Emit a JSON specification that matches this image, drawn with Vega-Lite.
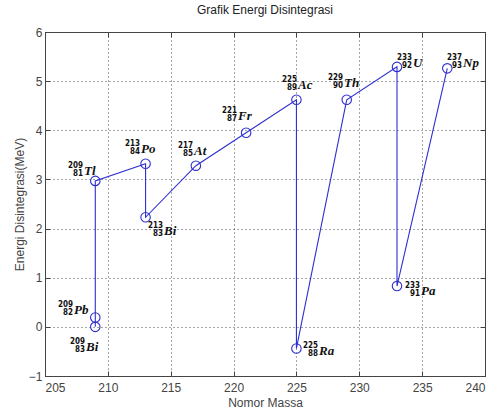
{
  "$schema": "https://vega.github.io/schema/vega-lite/v6.json",
  "width": 440,
  "height": 344,
  "autosize": "none",
  "padding": {"left": 45, "top": 32, "right": 9, "bottom": 34},
  "background": "white",
  "title": {"text": "Grafik Energi Disintegrasi", "fontSize": 12, "fontWeight": "normal", "font": "Liberation Sans", "color": "#222222", "offset": 9},
  "config": {
    "view": {"stroke": "#444444", "strokeWidth": 1},
    "axis": {
      "labelFont": "Liberation Sans", "labelFontSize": 12, "labelColor": "#444444",
      "titleFont": "Liberation Sans", "titleFontSize": 12, "titleColor": "#444444", "titleFontWeight": "normal",
      "domainColor": "#444444", "tickColor": "#444444", "tickSize": -5, "labelPadding": 8,
      "gridColor": "#000000", "gridDash": [1, 3], "gridOpacity": 0.7, "gridWidth": 1
    }
  },
  "data": {"values": [
    {"sym": "Np", "mass": 237, "E": 5.26, "step": 1, "A": "237", "Z": "93", "lx": 238.17, "ly": 5.39},
    {"sym": "Pa", "mass": 233, "E": 0.83, "step": 2, "A": "233", "Z": "91", "lx": 234.83, "ly": 0.75},
    {"sym": "U", "mass": 233, "E": 5.29, "step": 3, "A": "233", "Z": "92", "lx": 234.19, "ly": 5.39},
    {"sym": "Th", "mass": 229, "E": 4.62, "step": 4, "A": "229", "Z": "90", "lx": 228.71, "ly": 4.98},
    {"sym": "Ra", "mass": 225, "E": -0.44, "step": 5, "A": "225", "Z": "88", "lx": 226.72, "ly": -0.47},
    {"sym": "Ac", "mass": 225, "E": 4.62, "step": 6, "A": "225", "Z": "89", "lx": 225.05, "ly": 4.94},
    {"sym": "Fr", "mass": 221, "E": 3.95, "step": 7, "A": "221", "Z": "87", "lx": 220.27, "ly": 4.31},
    {"sym": "At", "mass": 217, "E": 3.28, "step": 8, "A": "217", "Z": "85", "lx": 216.77, "ly": 3.6},
    {"sym": "Bi", "mass": 213, "E": 2.23, "step": 9, "A": "213", "Z": "83", "lx": 214.39, "ly": 1.97},
    {"sym": "Po", "mass": 213, "E": 3.32, "step": 10, "A": "213", "Z": "84", "lx": 212.56, "ly": 3.64},
    {"sym": "Tl", "mass": 209, "E": 2.97, "step": 11, "A": "209", "Z": "81", "lx": 208.02, "ly": 3.19},
    {"sym": "Pb", "mass": 209, "E": 0.19, "step": 12, "A": "209", "Z": "82", "lx": 207.23, "ly": 0.36},
    {"sym": "Bi", "mass": 209, "E": 0.0, "step": 13, "A": "209", "Z": "83", "lx": 208.18, "ly": -0.39}
  ]},
  "resolve": {"scale": {"x": "shared", "y": "shared"}, "axis": {"x": "independent", "y": "independent"}},
  "layer": [
    {
      "mark": {"type": "line", "color": "#2f2fd0", "strokeWidth": 1.1},
      "encoding": {
        "x": {"field": "mass", "type": "quantitative", "scale": {"domain": [205, 240], "nice": false, "zero": false},
              "axis": {"title": "Nomor Massa", "values": [205, 210, 215, 220, 225, 230, 235, 240], "grid": true, "titlePadding": 4, "labelPadding": 11}},
        "y": {"field": "E", "type": "quantitative", "scale": {"domain": [-1, 6], "nice": false, "zero": false},
              "axis": {"title": "Energi Disintegrasi(MeV)", "values": [-1, 0, 1, 2, 3, 4, 5, 6], "grid": true, "titlePadding": 2, "labelPadding": 8}},
        "order": {"field": "step", "type": "quantitative"}
      }
    },
    {
      "mark": {"type": "point", "shape": "circle", "filled": false, "size": 90, "color": "#2f2fd0", "strokeWidth": 1.1, "opacity": 1},
      "encoding": {
        "x": {"field": "mass", "type": "quantitative", "axis": {"orient": "top", "title": null, "labels": false, "grid": false, "values": [205, 210, 215, 220, 225, 230, 235, 240]}},
        "y": {"field": "E", "type": "quantitative", "axis": {"orient": "right", "title": null, "labels": false, "grid": false, "values": [-1, 0, 1, 2, 3, 4, 5, 6]}}
      }
    },
    {
      "mark": {"type": "text", "align": "right", "baseline": "middle", "dy": -4, "fontSize": 8, "fontWeight": "bold", "font": "DejaVu Sans Condensed", "color": "#111111"},
      "encoding": {
        "x": {"field": "lx", "type": "quantitative", "axis": null},
        "y": {"field": "ly", "type": "quantitative", "axis": null},
        "text": {"field": "A"}
      }
    },
    {
      "mark": {"type": "text", "align": "right", "baseline": "middle", "dy": 4, "fontSize": 8, "fontWeight": "bold", "font": "DejaVu Sans Condensed", "color": "#111111"},
      "encoding": {
        "x": {"field": "lx", "type": "quantitative", "axis": null},
        "y": {"field": "ly", "type": "quantitative", "axis": null},
        "text": {"field": "Z"}
      }
    },
    {
      "mark": {"type": "text", "align": "left", "baseline": "middle", "dx": 1, "dy": 1, "fontSize": 13, "fontWeight": "bold", "fontStyle": "italic", "font": "Liberation Serif", "color": "#111111"},
      "encoding": {
        "x": {"field": "lx", "type": "quantitative", "axis": null},
        "y": {"field": "ly", "type": "quantitative", "axis": null},
        "text": {"field": "sym"}
      }
    }
  ]
}
